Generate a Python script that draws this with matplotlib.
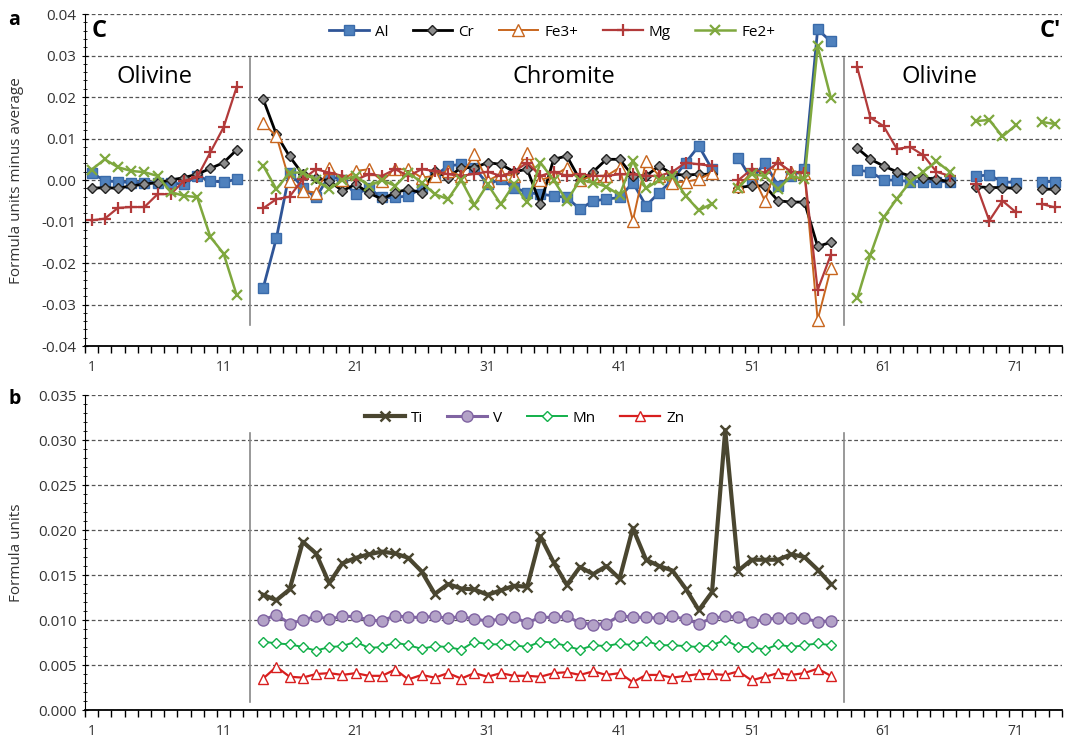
import numpy as np
import matplotlib.pyplot as plt
from matplotlib.ticker import MultipleLocator, FixedLocator, NullFormatter

plt.rcParams['font.family'] = ['Open Sans', 'DejaVu Sans']

nan = np.nan

# Panel a: formula units minus average along the C - C' traverse (positions 1..74)
pos = np.arange(1, 75)

# olivine, positions 1-12
al_oliv1 = [0.0018, -0.0002, -0.0004, -0.0006, -0.0006, -0.0006, -0.0007, -0.0010, 0.0010, -0.0002, -0.0005, 0.0002]
cr_oliv1 = [-0.0020, -0.0018, -0.0020, -0.0014, -0.0010, -0.0006, 0.0000, 0.0006, 0.0014, 0.0028, 0.0042, 0.0073]
mg_oliv1 = [-0.0097, -0.0093, -0.0067, -0.0065, -0.0065, -0.0034, -0.0034, -0.0002, 0.0007, 0.0067, 0.0127, 0.0225]
fe2_oliv1 = [0.0025, 0.0050, 0.0031, 0.0022, 0.0019, 0.0010, -0.0029, -0.0038, -0.0041, -0.0137, -0.0177, -0.0278]

# chromite, positions 14-57 (no analysis at 49)
al_chr = [-0.0260, -0.0140, 0.0018, -0.0018, -0.0042, 0.0010, 0.0000, -0.0034, -0.0020, -0.0042,
          -0.0042, -0.0038, -0.0020, 0.0010, 0.0034, 0.0038, 0.0030, -0.0010, 0.0002, -0.0018,
          -0.0030, -0.0034, -0.0038, -0.0042, -0.0070, -0.0050, -0.0046, -0.0042, -0.0006, -0.0062,
          -0.0030, 0.0000, 0.0042, 0.0082, 0.0026, nan, 0.0054, 0.0000, 0.0042, -0.0014,
          0.0010, 0.0026, 0.0363, 0.0334]
cr_chr = [0.0195, 0.0110, 0.0057, 0.0014, 0.0005, -0.0002, -0.0026, -0.0010, -0.0031, -0.0046,
          -0.0030, -0.0022, -0.0031, 0.0022, 0.0006, 0.0030, 0.0030, 0.0042, 0.0038, 0.0020,
          0.0026, -0.0058, 0.0050, 0.0058, 0.0000, 0.0020, 0.0050, 0.0050, 0.0010, 0.0010,
          0.0034, 0.0014, 0.0012, 0.0014, 0.0014, nan, -0.0018, -0.0014, -0.0014, -0.0050,
          -0.0053, -0.0053, -0.0160, -0.0150]
fe3_chr = [0.0137, 0.0106, -0.0002, -0.0026, -0.0030, 0.0030, 0.0000, 0.0022, 0.0026, -0.0002,
           0.0026, 0.0026, 0.0006, 0.0010, 0.0022, 0.0010, 0.0062, -0.0002, 0.0015, 0.0010,
           0.0066, 0.0000, 0.0010, 0.0030, 0.0000, 0.0010, 0.0010, 0.0030, -0.0098, 0.0046,
           0.0010, -0.0006, -0.0004, 0.0002, 0.0018, nan, -0.0014, 0.0018, -0.0050, 0.0042,
           0.0020, 0.0018, -0.0337, -0.0213]
mg_chr = [-0.0068, -0.0046, -0.0040, 0.0002, 0.0026, 0.0018, 0.0010, 0.0000, 0.0014, 0.0010,
          0.0026, 0.0010, 0.0026, 0.0022, 0.0014, 0.0010, 0.0015, 0.0020, 0.0010, 0.0020,
          0.0042, 0.0010, 0.0020, 0.0010, 0.0014, 0.0010, 0.0010, 0.0014, 0.0014, 0.0010,
          0.0010, 0.0020, 0.0042, 0.0038, 0.0034, nan, 0.0000, 0.0026, 0.0018, 0.0042,
          0.0020, 0.0018, -0.0265, -0.0180]
fe2_chr = [0.0035, -0.0022, 0.0018, 0.0018, 0.0000, -0.0022, 0.0000, 0.0010, -0.0014, 0.0000,
           -0.0014, 0.0018, -0.0006, -0.0034, -0.0046, 0.0000, -0.0060, -0.0010, -0.0058, -0.0010,
           -0.0054, 0.0042, 0.0000, -0.0050, 0.0000, -0.0006, -0.0016, -0.0036, 0.0046, -0.0020,
           0.0000, 0.0010, -0.0038, -0.0073, -0.0057, nan, -0.0018, 0.0014, 0.0010, -0.0022,
           0.0010, 0.0002, 0.0322, 0.0198]

# olivine, positions 59-74 (no analyses at 67 and 72)
al_oliv2 = [0.0024, 0.0020, 0.0000, 0.0000, -0.0004, -0.0004, -0.0004, -0.0004,
            nan, 0.0010, 0.0012, -0.0004, -0.0006, nan, -0.0004, -0.0004]
cr_oliv2 = [0.0077, 0.0050, 0.0034, 0.0020, 0.0010, 0.0006, 0.0002, -0.0004,
            nan, -0.0016, -0.0018, -0.0018, -0.0020, nan, -0.0022, -0.0022]
mg_oliv2 = [0.0272, 0.0150, 0.0130, 0.0075, 0.0080, 0.0060, 0.0020, 0.0010,
            nan, -0.0010, -0.0098, -0.0050, -0.0077, nan, -0.0058, -0.0066]
fe2_oliv2 = [-0.0285, -0.0180, -0.0090, -0.0045, -0.0005, 0.0020, 0.0045, 0.0020,
             nan, 0.0142, 0.0145, 0.0105, 0.0132, nan, 0.0140, 0.0135]

gap = [nan]
al = al_oliv1 + gap + al_chr + gap + al_oliv2
cr = cr_oliv1 + gap + cr_chr + gap + cr_oliv2
fe3 = [nan] * 12 + gap + fe3_chr + gap + [nan] * 16
mg = mg_oliv1 + gap + mg_chr + gap + mg_oliv2
fe2 = fe2_oliv1 + gap + fe2_chr + gap + fe2_oliv2

# Panel b: formula units in chromite, positions 14..57
pos_b = np.arange(14, 58)
ti = [0.0128, 0.0122, 0.0134, 0.0187, 0.0174, 0.0141, 0.0163, 0.0169, 0.0173, 0.0176,
      0.0174, 0.0169, 0.0154, 0.0129, 0.0140, 0.0135, 0.0134, 0.0128, 0.0133, 0.0138,
      0.0137, 0.0193, 0.0164, 0.0139, 0.0159, 0.0151, 0.0160, 0.0146, 0.0202, 0.0167,
      0.0160, 0.0155, 0.0135, 0.0111, 0.0131, 0.0311, 0.0155, 0.0167, 0.0167, 0.0167,
      0.0173, 0.0170, 0.0156, 0.0140]
v = [0.0100, 0.0106, 0.0096, 0.0100, 0.0104, 0.0101, 0.0104, 0.0104, 0.0100, 0.0099,
     0.0105, 0.0103, 0.0103, 0.0104, 0.0102, 0.0104, 0.0101, 0.0099, 0.0101, 0.0103,
     0.0097, 0.0103, 0.0103, 0.0104, 0.0097, 0.0095, 0.0096, 0.0105, 0.0103, 0.0103,
     0.0102, 0.0104, 0.0101, 0.0096, 0.0102, 0.0104, 0.0103, 0.0098, 0.0101, 0.0102,
     0.0102, 0.0102, 0.0098, 0.0099]
mn = [0.0076, 0.0074, 0.0073, 0.0070, 0.0066, 0.0070, 0.0071, 0.0076, 0.0069, 0.0070,
      0.0075, 0.0072, 0.0068, 0.0071, 0.0070, 0.0067, 0.0076, 0.0073, 0.0073, 0.0072,
      0.0070, 0.0076, 0.0075, 0.0071, 0.0067, 0.0072, 0.0071, 0.0074, 0.0072, 0.0077,
      0.0072, 0.0072, 0.0071, 0.0070, 0.0072, 0.0078, 0.0070, 0.0070, 0.0067, 0.0073,
      0.0070, 0.0072, 0.0074, 0.0072]
zn = [0.0035, 0.0048, 0.0037, 0.0036, 0.0040, 0.0041, 0.0039, 0.0041, 0.0038, 0.0038,
      0.0045, 0.0034, 0.0039, 0.0036, 0.0041, 0.0035, 0.0041, 0.0037, 0.0041, 0.0038,
      0.0038, 0.0037, 0.0041, 0.0042, 0.0039, 0.0043, 0.0039, 0.0041, 0.0031, 0.0039,
      0.0039, 0.0036, 0.0038, 0.0040, 0.0040, 0.0039, 0.0043, 0.0033, 0.0037, 0.0041,
      0.0039, 0.0041, 0.0046, 0.0038]

fig = plt.figure(figsize=(10.7, 7.41), dpi=100)
ax_a = fig.add_axes([0.0794, 0.533, 0.913, 0.448])
ax_b = fig.add_axes([0.0794, 0.0418, 0.913, 0.4251])

grid_kw = dict(color='#555555', linestyle=(0, (3, 2)), linewidth=0.9)


def style_axis(ax, ymin, ymax, major, minor, fmt):
    ax.set_xlim(0.5, 74.5)
    ax.set_ylim(ymin, ymax)
    for s in ('top', 'right'):
        ax.spines[s].set_visible(False)
    ax.spines['left'].set_color('black')
    ax.spines['bottom'].set_color('black')
    ax.spines['bottom'].set_linewidth(1.3)
    ax.yaxis.set_major_locator(MultipleLocator(major))
    ax.yaxis.set_minor_locator(MultipleLocator(minor))
    ax.yaxis.set_major_formatter(plt.FuncFormatter(lambda y, _: fmt.format(y + 0.0)))
    ax.yaxis.grid(True, which='major', **grid_kw)
    ax.set_axisbelow(True)
    ax.xaxis.set_major_locator(FixedLocator([1, 11, 21, 31, 41, 51, 61, 71]))
    ax.xaxis.set_minor_locator(FixedLocator(np.arange(0.5, 75, 1)))
    ax.xaxis.set_minor_formatter(NullFormatter())
    ax.tick_params(axis='x', which='major', length=0, labelsize=10, pad=10, labelcolor='#333333')
    ax.tick_params(axis='x', which='minor', length=5, direction='out', width=1)
    ax.tick_params(axis='y', which='major', length=5, direction='inout', labelsize=11, labelcolor='#333333')
    ax.tick_params(axis='y', which='minor', length=3, direction='inout')


style_axis(ax_a, -0.04, 0.04, 0.01, 0.002, '{:.2f}')
style_axis(ax_b, 0.0, 0.035, 0.005, 0.001, '{:.3f}')

ms = 7
ax_a.plot(pos, al, color='#2F5597', marker='s', markersize=ms, markerfacecolor='#4F81BD',
          markeredgecolor='#3A6BAA', lw=2, label='Al')
ax_a.plot(pos, cr, color='black', marker='D', markersize=5, markerfacecolor='#8C8C8C',
          markeredgecolor='#222222', lw=2, label='Cr')
ax_a.plot(pos, fe3, color='#C8661E', marker='^', markersize=ms + 1, markerfacecolor='white',
          markeredgecolor='#C8661E', lw=1.4, label='Fe3+')
ax_a.plot(pos, mg, color='#B23A3A', marker='+', markersize=ms + 1, markeredgewidth=1.6,
          lw=1.6, label='Mg')
ax_a.plot(pos, fe2, color='#7FA83E', marker='x', markersize=ms, markeredgewidth=1.6,
          lw=1.8, label='Fe2+')

for x in (13, 58):
    ax_a.plot([x, x], [-0.035, 0.0295], color='#888888', lw=1.2)
    ax_b.plot([x, x], [0.0009, 0.0308], color='#888888', lw=1.2)

ax_a.legend(loc='center', bbox_to_anchor=(0.478, 0.946), ncol=5, frameon=False,
            fontsize=11, handlelength=2.6, columnspacing=1.6, handletextpad=0.4)
ax_a.set_ylabel('Formula units minus average', fontsize=11, color='#333333')
ax_a.yaxis.set_label_coords(-0.062, 0.5)

ax_a.text(1.6, 0.036, 'C', fontsize=17, fontweight='bold', ha='center', va='center')
ax_a.text(73.6, 0.036, "C'", fontsize=17, fontweight='bold', ha='center', va='center')
ax_a.text(5.8, 0.0249, 'Olivine', fontsize=17, ha='center', va='center')
ax_a.text(36.8, 0.0249, 'Chromite', fontsize=17, ha='center', va='center')
ax_a.text(65.2, 0.0249, 'Olivine', fontsize=17, ha='center', va='center')

ax_b.plot(pos_b, ti, color='#4A4630', marker='x', markersize=7, markeredgewidth=1.8,
          lw=3, label='Ti')
ax_b.plot(pos_b, v, color='#8064A2', marker='o', markersize=8, markerfacecolor='#B3A2C7',
          markeredgecolor='#8064A2', lw=2.2, label='V')
ax_b.plot(pos_b, mn, color='#12B04A', marker='D', markersize=5.5, markerfacecolor='white',
          markeredgecolor='#12B04A', lw=1.4, label='Mn')
ax_b.plot(pos_b, zn, color='#D81E1E', marker='^', markersize=7, markerfacecolor='white',
          markeredgecolor='#D81E1E', lw=1.6, label='Zn')
ax_b.legend(loc='center', bbox_to_anchor=(0.45, 0.927), ncol=4, frameon=False,
            fontsize=11, handlelength=2.6, columnspacing=1.6, handletextpad=0.4)
ax_b.set_ylabel('Formula units', fontsize=11, color='#333333')
ax_b.yaxis.set_label_coords(-0.062, 0.5)

fig.text(0.0075, 0.987, 'a', fontsize=14, fontweight='bold', va='top')
fig.text(0.0075, 0.475, 'b', fontsize=14, fontweight='bold', va='top')

fig.savefig('out.png', dpi=100, facecolor='white')
